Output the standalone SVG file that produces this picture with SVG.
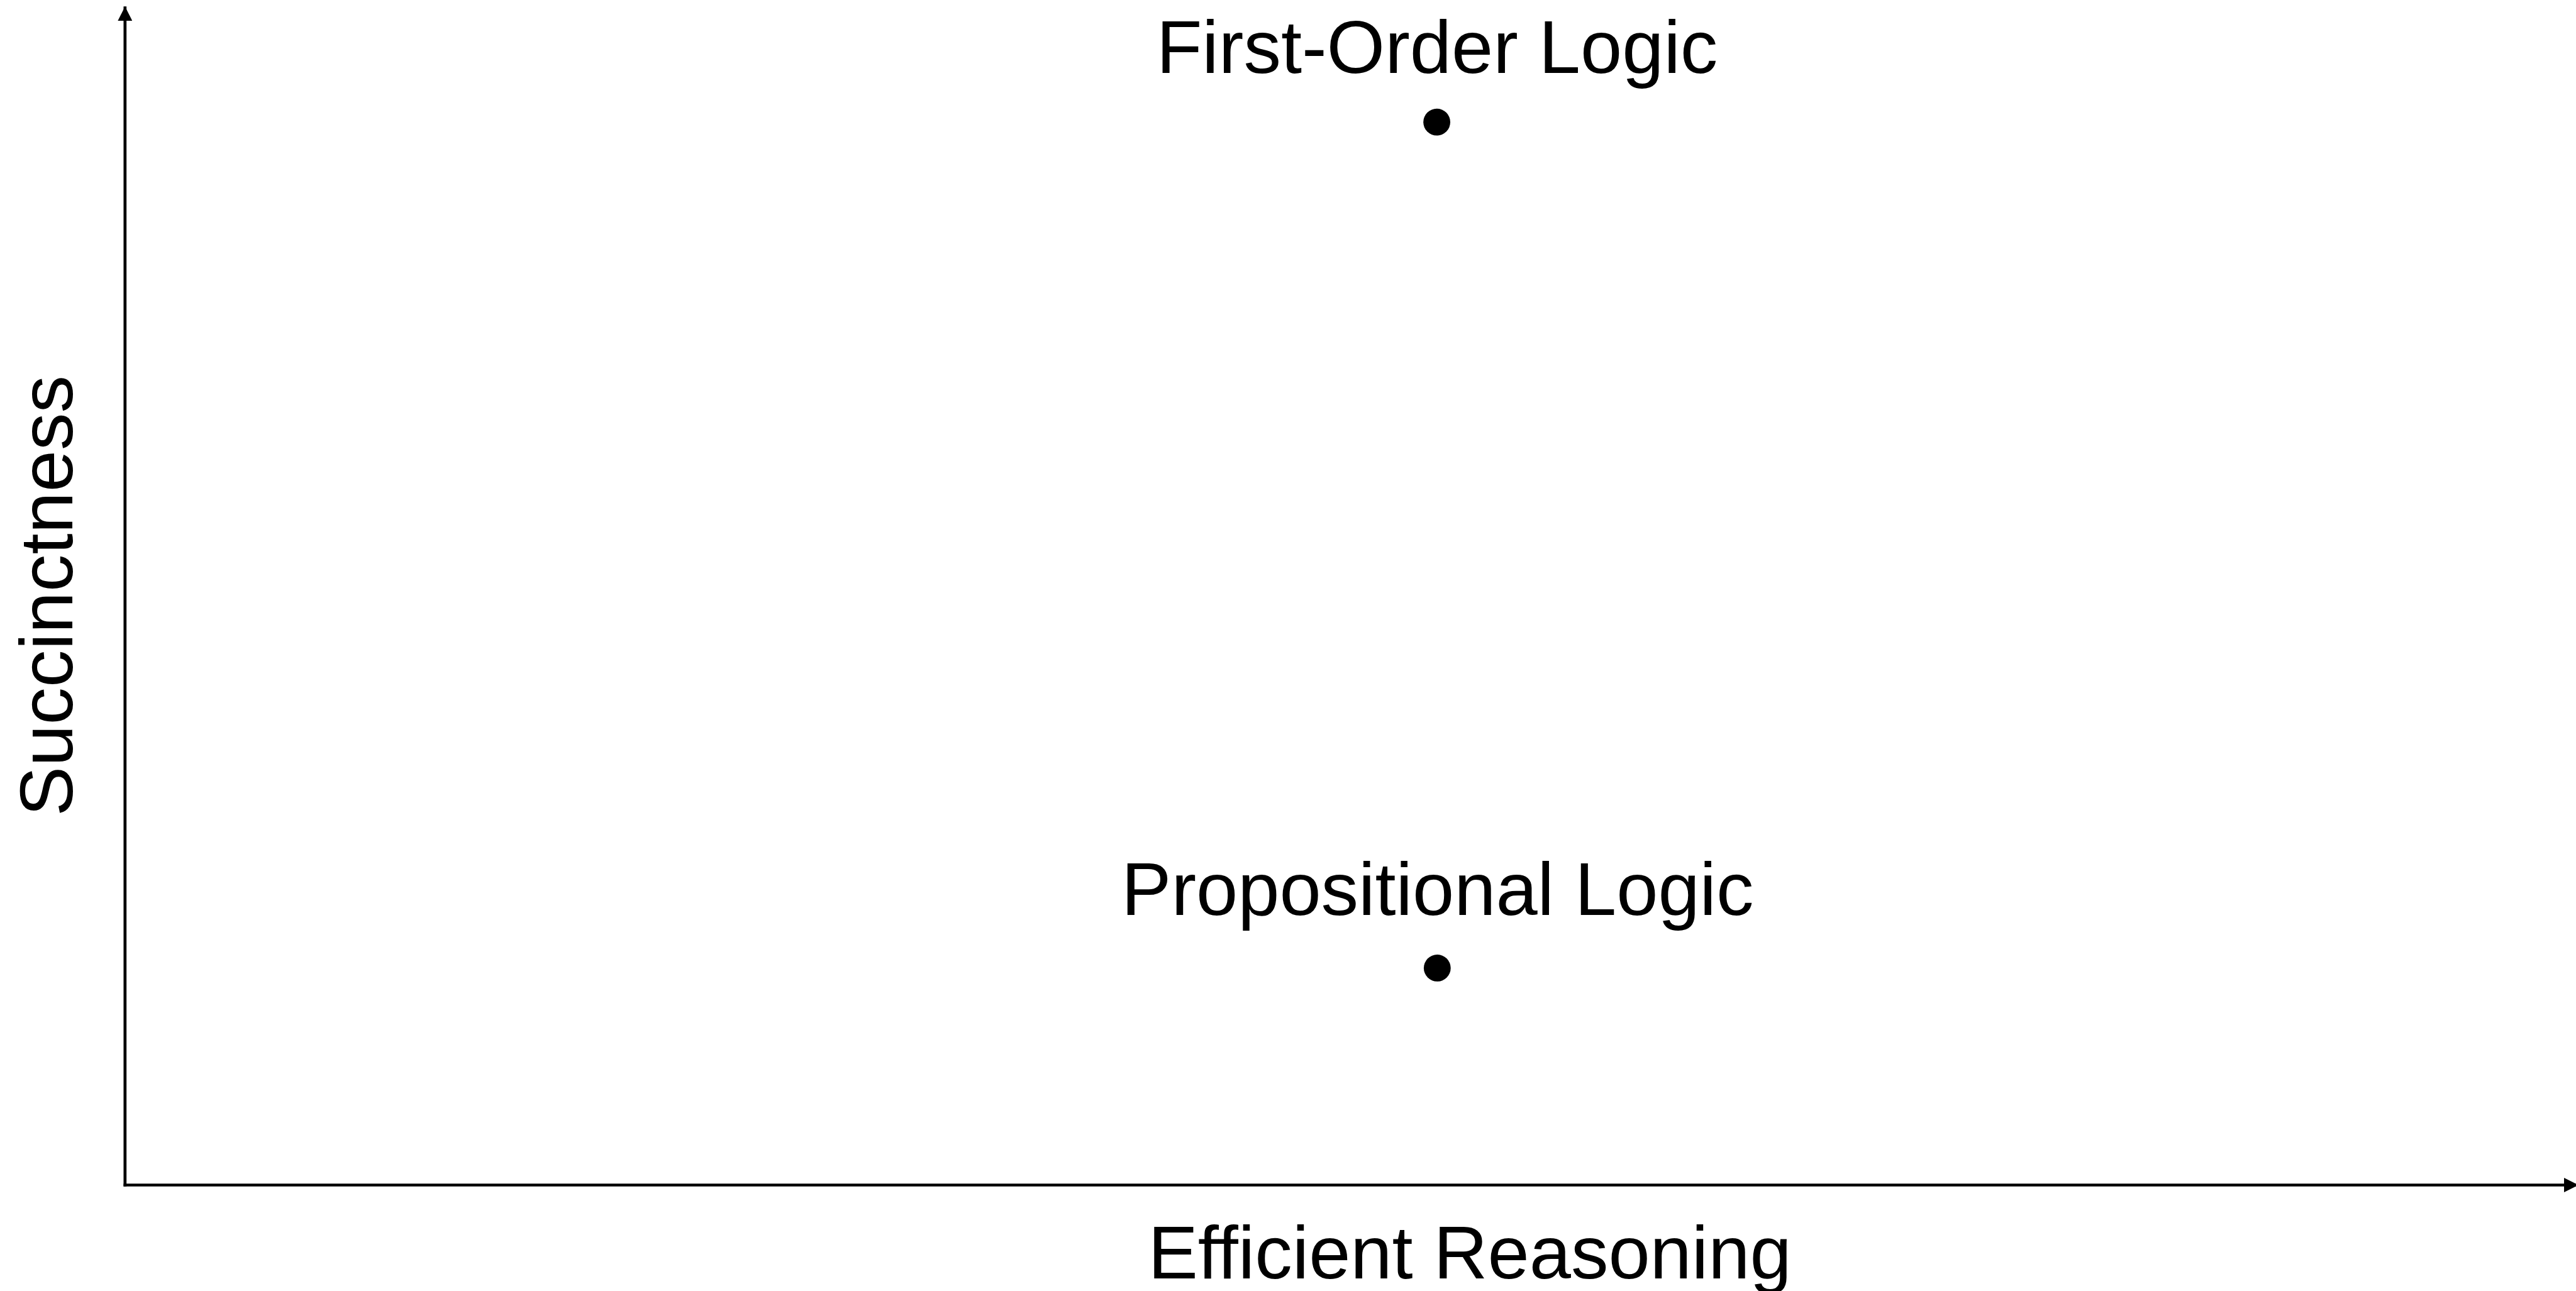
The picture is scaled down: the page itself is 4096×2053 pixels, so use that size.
<svg xmlns="http://www.w3.org/2000/svg" width="4096" height="2053" viewBox="0 0 4096 2053">
  <style>
    .lbl { font-family: "Liberation Sans", Arial, Helvetica, sans-serif; font-size: 119px; fill: #000; }
    .axis { stroke: #000; stroke-width: 4.7; fill: none; }
    .dot { fill: #000; }
  </style>
  <defs>
    <marker id="arrow" viewBox="0 0 10 10" refX="10" refY="5" markerUnits="userSpaceOnUse" markerWidth="23.2" markerHeight="23.2" orient="auto">
      <path d="M0,0 L10,5 L0,10 z" fill="#000"/>
    </marker>
  </defs>
  <rect width="4096" height="2053" fill="#fff"/>
  <g id="connectors">
    <line id="y-axis" class="axis" x1="198.8" y1="1886.8" x2="198.8" y2="10.2" marker-end="url(#arrow)"/>
    <line id="x-axis" class="axis" x1="196.5" y1="1884.5" x2="4100" y2="1884.5" marker-end="url(#arrow)"/>
  </g>
  <g id="axis-label-x">
    <text class="lbl" x="2337" y="2032.7" text-anchor="middle">Efficient Reasoning</text>
  </g>
  <g id="axis-label-y">
    <text class="lbl" transform="translate(115.2,947.6) rotate(-90)" x="0" y="0" text-anchor="middle">Succinctness</text>
  </g>
  <g id="node-first-order">
    <text class="lbl" x="2285" y="115.5" text-anchor="middle">First-Order Logic</text>
    <circle class="dot" cx="2284.6" cy="194.2" r="21.4"/>
  </g>
  <g id="node-propositional">
    <text class="lbl" x="2285.8" y="1454.8" text-anchor="middle">Propositional Logic</text>
    <circle class="dot" cx="2285.3" cy="1539.4" r="21.4"/>
  </g>
</svg>
